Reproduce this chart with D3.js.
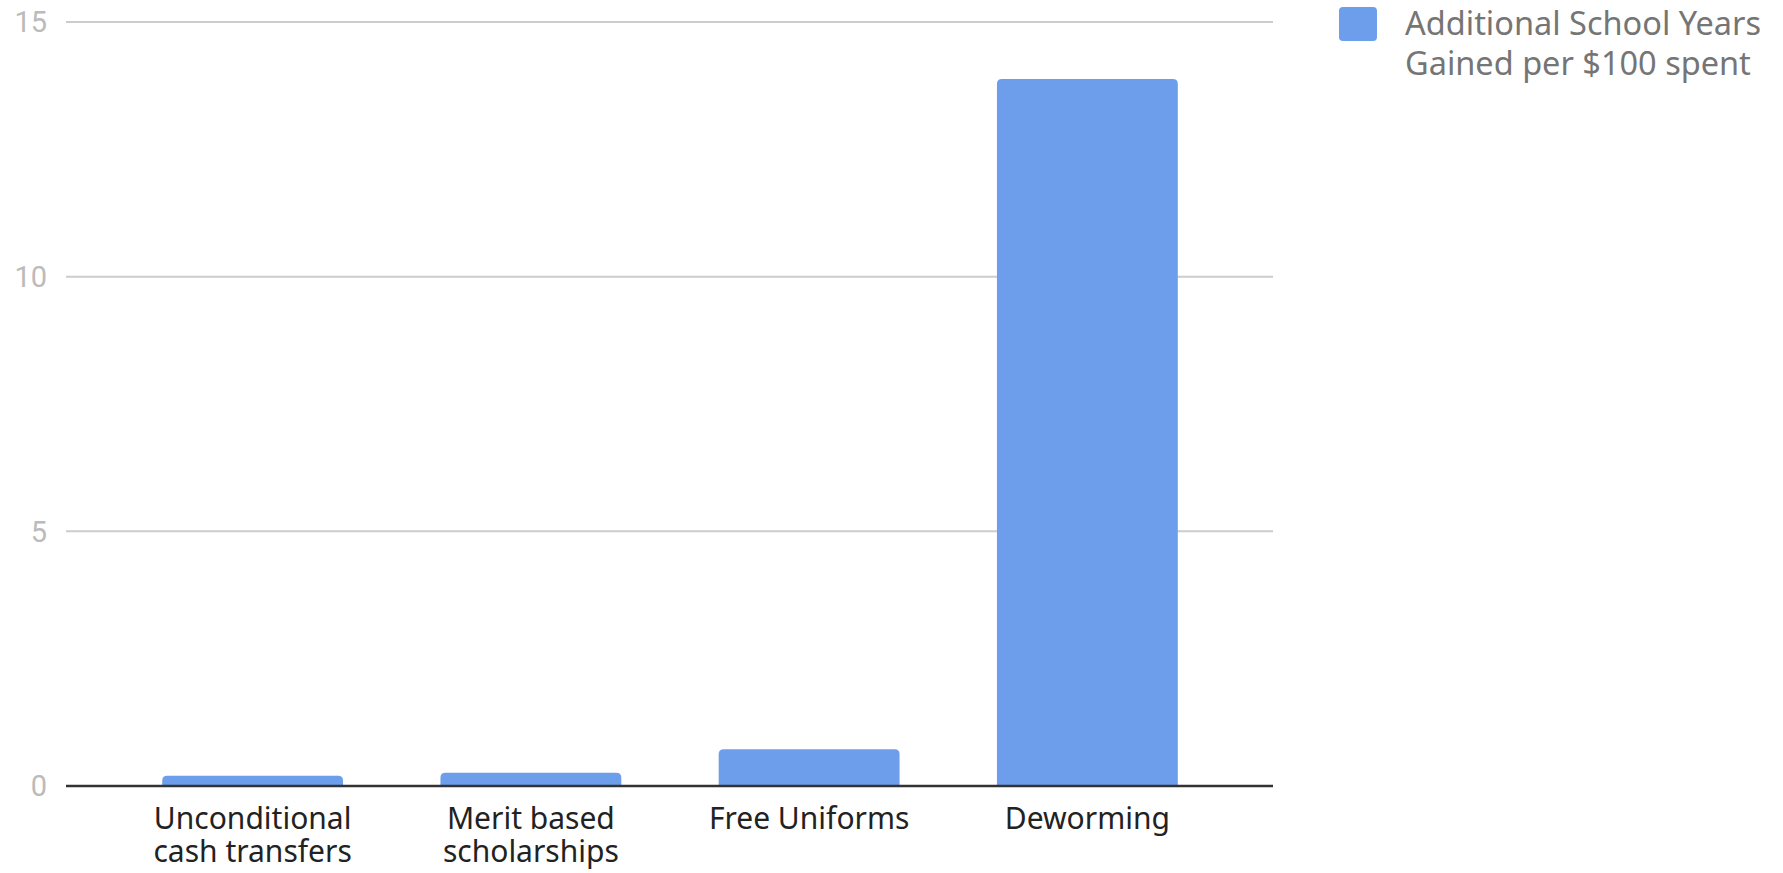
<!DOCTYPE html>
<html><head><meta charset="utf-8">
<script src="https://cdn.jsdelivr.net/npm/d3@7"></script>
<style>body{margin:0;background:#fff;} svg{display:block;}</style>
</head><body>
<script>
const categories = [["Unconditional","cash transfers"],["Merit based","scholarships"],["Free Uniforms"],["Deworming"]];
const categoryKeys = ["Unconditional cash transfers","Merit based scholarships","Free Uniforms","Deworming"];
const values = [0.2, 0.26, 0.72, 13.88];
const yTicks = [0, 5, 10, 15];
const seriesName = ["Additional School Years","Gained per $100 spent"];

const W = 1783, H = 873;
const svg = d3.select("body").append("svg").attr("width", W).attr("height", H);
const font = "'Noto Sans', Roboto, sans-serif";

const y = d3.scaleLinear().domain([0, 15]).range([786, 22]);
const x = d3.scaleBand().domain(categoryKeys).range([113.5, 1226.5]).paddingInner(0.35).paddingOuter(0.175);

// gridlines
svg.append("g").selectAll("line").data(yTicks.filter(t => t > 0)).join("line")
  .attr("x1", 66).attr("x2", 1273)
  .attr("y1", d => y(d)).attr("y2", d => y(d))
  .attr("stroke", "#cccccc").attr("stroke-width", 2);

// y labels
svg.append("g").selectAll("text").data(yTicks).join("text")
  .attr("x", 47).attr("y", d => y(d)).attr("dy", "0.36em")
  .attr("text-anchor", "end").attr("font-family", "Roboto, sans-serif").attr("font-size", 29)
  .attr("fill", "#bbbbbb").text(d => d);

// bars with rounded top corners
const r = 5;
svg.append("g").selectAll("path").data(values).join("path")
  .attr("fill", "#6d9eeb")
  .attr("d", (d, i) => {
    const x0 = x(categoryKeys[i]), w = x.bandwidth(), yt = y(d), yb = y(0);
    const rr = Math.min(r, (yb - yt));
    return `M${x0},${yb}V${yt + rr}Q${x0},${yt} ${x0 + rr},${yt}H${x0 + w - rr}Q${x0 + w},${yt} ${x0 + w},${yt + rr}V${yb}Z`;
  });

// baseline
svg.append("line").attr("x1", 66).attr("x2", 1273).attr("y1", y(0)).attr("y2", y(0))
  .attr("stroke", "#333333").attr("stroke-width", 2.5);

// x labels (one text element per line)
const labelLines = [];
categories.forEach((lines, i) => lines.forEach((t, j) => labelLines.push({ key: categoryKeys[i], t, j })));
svg.append("g").selectAll("text").data(labelLines).join("text")
  .attr("font-family", font).attr("font-size", 30).attr("fill", "#222222")
  .attr("text-anchor", "middle")
  .attr("x", d => x(d.key) + x.bandwidth() / 2)
  .attr("y", d => 829 + d.j * 33)
  .text(d => d.t);

// legend
const lg = svg.append("g");
lg.append("rect").attr("x", 1339).attr("y", 7).attr("width", 38).attr("height", 34).attr("rx", 4)
  .attr("fill", "#6d9eeb");
lg.selectAll("text").data(seriesName).join("text")
  .attr("font-family", font).attr("font-size", 32.5).attr("fill", "#757575")
  .attr("x", 1405).attr("y", (d, j) => 35 + j * 40).text(d => d);
</script>
</body></html>
